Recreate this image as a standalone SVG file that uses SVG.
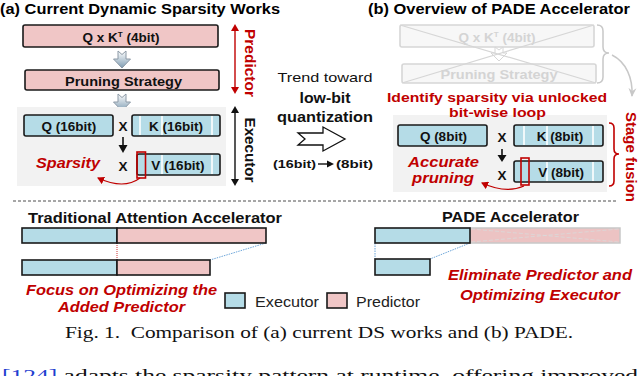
<svg xmlns="http://www.w3.org/2000/svg" width="640" height="376" viewBox="0 0 640 376">
<defs>
<linearGradient id="gArr" x1="0" y1="0" x2="0" y2="1">
<stop offset="0" stop-color="#ffffff"/>
<stop offset="1" stop-color="#7f9db3"/>
</linearGradient>
<marker id="mRed" markerWidth="8" markerHeight="8" refX="6" refY="4" orient="auto" markerUnits="userSpaceOnUse">
<path d="M0,0 L7,4 L0,8 Z" fill="#c00000"/>
</marker>
<marker id="mGray" markerWidth="10" markerHeight="10" refX="8" refY="5" orient="auto" markerUnits="userSpaceOnUse">
<path d="M0,1 L9,5 L0,9 L3,5 Z" fill="#c8c8c8"/>
</marker>
</defs>
<style>
text{font-family:"Liberation Sans",Arial,sans-serif}
.b{font-weight:bold}
.title{font-size:15px;font-weight:bold;fill:#000}
.bx{font-size:13.5px;font-weight:bold;fill:#111}
.pink{fill:#f0c6c6;stroke:#1a1a1a;stroke-width:1.6}
.blue{fill:#b5dce7;stroke:#1a1a1a;stroke-width:1.6}
.red{fill:#c00000}
.ri{font-style:italic;font-weight:bold;fill:#c00000}
.wl{stroke:#ffffff;stroke-width:1.6}
.fade{fill:#f7f7f7;stroke:#d6d6d6;stroke-width:1.6}
.ftx{font-size:13.5px;font-weight:bold;fill:#d4d4d4}
.garr{fill:url(#gArr);stroke:#8c99a6;stroke-width:1}
.panel{fill:#f2f2f2}
.serif{font-family:"Liberation Serif","Times New Roman",serif}
</style>

<!-- Titles -->
<text class="title" x="0" y="14" textLength="280" lengthAdjust="spacingAndGlyphs">(a) Current Dynamic Sparsity Works</text>
<text class="title" x="368" y="14" textLength="262" lengthAdjust="spacingAndGlyphs">(b) Overview of PADE Accelerator</text>

<!-- Left panel (a) -->
<g id="a-qk">
<rect class="pink" x="23" y="25" width="195" height="22" rx="2"/>
<text class="bx" x="121" y="42" text-anchor="middle">Q x K<tspan dy="-5" font-size="8">T</tspan><tspan dy="5"> (4bit)</tspan></text>
</g>
<g id="a-arrow1"><polygon class="garr" points="118,51 122,54.5 126,51 126,59 130.5,59 122,68 113.5,59 118,59"/></g>
<g id="a-prune">
<rect class="pink" x="25" y="70" width="194" height="20" rx="2"/>
<text class="bx" x="123.5" y="85.5" text-anchor="middle" textLength="117" lengthAdjust="spacingAndGlyphs">Pruning Strategy</text>
</g>
<g id="a-arrow2"><polygon class="garr" points="118,94 122,97.5 126,94 126,102 130.5,102 122,111 113.5,102 118,102"/></g>

<g id="a-exec">
<rect class="panel" x="17" y="107" width="209" height="79"/>
<rect class="blue" x="24" y="115" width="89" height="21" rx="2"/>
<text class="bx" x="69" y="131" text-anchor="middle">Q (16bit)</text>
<text class="bx" x="123" y="131" text-anchor="middle">X</text>
<rect class="blue" x="132" y="115" width="88" height="21" rx="2"/>
<line class="wl" x1="140" y1="116" x2="140" y2="135"/>
<line class="wl" x1="162" y1="116" x2="162" y2="135"/>
<line class="wl" x1="212" y1="116" x2="212" y2="135"/>
<text class="bx" x="176" y="131" text-anchor="middle">K (16bit)</text>
<line x1="123" y1="137" x2="123" y2="146" stroke="#111" stroke-width="1.6"/>
<polygon points="118.5,145 127.5,145 123,153" fill="#111"/>
<text class="bx" x="123" y="171" text-anchor="middle">X</text>
<rect class="blue" x="137" y="154" width="83" height="21" rx="2"/>
<line class="wl" x1="162" y1="155" x2="162" y2="174"/>
<line class="wl" x1="212" y1="155" x2="212" y2="174"/>
<text class="bx" x="178" y="170" text-anchor="middle">V (16bit)</text>
<rect x="137" y="152" width="8.5" height="26" fill="none" stroke="#c00000" stroke-width="1.6"/>
<text class="ri" x="36" y="168" font-size="15" textLength="64" lengthAdjust="spacingAndGlyphs">Sparsity</text>
</g>

<!-- Side arrows (a) -->
<g id="a-predictor">
<line x1="235" y1="30" x2="235" y2="88" stroke="#c00000" stroke-width="1.4"/>
<polygon points="231,31 239,31 235,24" fill="#c00000"/>
<polygon points="231,87 239,87 235,94" fill="#c00000"/>
<text class="b red" font-size="15" transform="translate(250,63) rotate(90)" text-anchor="middle" dominant-baseline="central" textLength="68" lengthAdjust="spacingAndGlyphs">Predictor</text>
</g>
<g id="a-executor">
<line x1="235" y1="112" x2="235" y2="180" stroke="#111" stroke-width="1.4"/>
<polygon points="231,113 239,113 235,106" fill="#111"/>
<polygon points="231,179 239,179 235,186" fill="#111"/>
<text class="b" font-size="15" fill="#111" transform="translate(250,150) rotate(90)" text-anchor="middle" dominant-baseline="central" textLength="65" lengthAdjust="spacingAndGlyphs">Executor</text>
</g>

<!-- Middle -->
<g id="mid">
<text x="325" y="82" font-size="13.5" text-anchor="middle" fill="#111" textLength="95" lengthAdjust="spacingAndGlyphs">Trend toward</text>
<text class="b" x="325" y="103" font-size="14" text-anchor="middle" fill="#111" textLength="51" lengthAdjust="spacingAndGlyphs">low-bit</text>
<text class="b" x="325" y="122" font-size="14" text-anchor="middle" fill="#111" textLength="96" lengthAdjust="spacingAndGlyphs">quantization</text>
<polygon points="298,133 323,133 323,127 345,139 323,151 323,145 298,145 305,139" fill="#fff" stroke="#111" stroke-width="1.3"/>
<text class="b" x="273" y="168" font-size="11.5" fill="#111" textLength="43" lengthAdjust="spacingAndGlyphs">(16bit)</text>
<line x1="318" y1="164" x2="328" y2="164" stroke="#111" stroke-width="1.4"/>
<polygon points="327,160.5 334,164 327,167.5" fill="#111"/>
<text class="b" x="336" y="168" font-size="11.5" fill="#111" textLength="37" lengthAdjust="spacingAndGlyphs">(8bit)</text>
</g>

<!-- Right panel (b) faded -->
<g id="b-faded">
<rect class="fade" x="400" y="25" width="194" height="22" rx="2"/>
<text class="ftx" x="497" y="42" text-anchor="middle">Q x K<tspan dy="-5" font-size="8">T</tspan><tspan dy="5"> (4bit)</tspan></text>
<rect class="fade" x="402" y="64" width="194" height="19" rx="2"/>
<text class="ftx" x="499" y="79" text-anchor="middle" textLength="117" lengthAdjust="spacingAndGlyphs">Pruning Strategy</text>
<polygon points="495,47 499,50 503,47 503,53 507,53 499,61 491,53 495,53" fill="#fff" stroke="#d6d6d6" stroke-width="1"/>
<line x1="400" y1="25" x2="596" y2="83" stroke="#d6d6d6" stroke-width="1.2"/>
<line x1="594" y1="25" x2="402" y2="83" stroke="#d6d6d6" stroke-width="1.2"/>
<path d="M597,25 Q603,25 603,31 L603,47 Q603,53 609,53 Q603,53 603,59 L603,77 Q603,83 597,83" fill="none" stroke="#c8c8c8" stroke-width="1.5"/>
<path d="M612,55 C626,62 633,78 632,96" fill="none" stroke="#c8c8c8" stroke-width="1.5" marker-end="url(#mGray)"/>
</g>

<g id="b-exec">
<rect class="panel" x="393" y="115" width="214" height="77"/>
<rect class="blue" x="398" y="125" width="89" height="21" rx="2"/>
<text class="bx" x="443.5" y="141" text-anchor="middle">Q (8bit)</text>
<text class="bx" x="502" y="142" text-anchor="middle">X</text>
<rect class="blue" x="514" y="125" width="89" height="21" rx="2"/>
<line class="wl" x1="524" y1="126" x2="524" y2="145"/>
<line class="wl" x1="547" y1="126" x2="547" y2="145"/>
<line class="wl" x1="593" y1="126" x2="593" y2="145"/>
<text class="bx" x="560" y="141" text-anchor="middle">K (8bit)</text>
<line x1="502" y1="149" x2="502" y2="156" stroke="#111" stroke-width="1.6"/>
<polygon points="497.5,155 506.5,155 502,162" fill="#111"/>
<text class="bx" x="502" y="180" text-anchor="middle">X</text>
<rect class="blue" x="514" y="161" width="89" height="21" rx="2"/>
<line class="wl" x1="547" y1="162" x2="547" y2="181"/>
<line class="wl" x1="593" y1="162" x2="593" y2="181"/>
<text class="bx" x="561" y="177" text-anchor="middle">V (8bit)</text>
<rect x="521" y="158" width="8" height="27" fill="none" stroke="#c00000" stroke-width="1.6"/>
<text class="ri" x="443.5" y="167" font-size="15" text-anchor="middle" textLength="71" lengthAdjust="spacingAndGlyphs">Accurate</text>
<text class="ri" x="443" y="183" font-size="15" text-anchor="middle" textLength="62" lengthAdjust="spacingAndGlyphs">pruning</text>
</g>

<text class="b red" x="387" y="101.5" font-size="13.5" textLength="220" lengthAdjust="spacingAndGlyphs">Identify sparsity via unlocked</text>
<text class="b red" x="449" y="117" font-size="13.5" textLength="97" lengthAdjust="spacingAndGlyphs">bit-wise loop</text>

<g id="b-fusion">
<path d="M609,123 Q614,123 614,128 L614,149 Q614,154 619,154 Q614,154 614,159 L614,181 Q614,186 609,186" fill="none" stroke="#c00000" stroke-width="1.6"/>
<text class="b red" font-size="15" transform="translate(631,157) rotate(90)" text-anchor="middle" dominant-baseline="central" textLength="90" lengthAdjust="spacingAndGlyphs">Stage fusion</text>
</g>

<!-- Connectors -->
<g id="connectors">
<path d="M140,178 Q124,190 98,178" fill="none" stroke="#c00000" stroke-width="1.2" marker-end="url(#mRed)"/>
<path d="M524,186 Q506,194 482,183" fill="none" stroke="#c00000" stroke-width="1.2" marker-end="url(#mRed)"/>
<line x1="117" y1="243" x2="117" y2="260" stroke="#c00000" stroke-width="0.8" stroke-dasharray="1,1"/>
<line x1="266" y1="243" x2="210" y2="260" stroke="#5b9bd5" stroke-width="0.9" stroke-dasharray="1.5,1"/>
<line x1="375" y1="243" x2="375" y2="259" stroke="#5b9bd5" stroke-width="0.9" stroke-dasharray="1.5,1"/>
<line x1="470" y1="243" x2="430" y2="259" stroke="#5b9bd5" stroke-width="0.9" stroke-dasharray="1.5,1"/>
</g>

<!-- Separator -->
<line x1="13" y1="201" x2="617" y2="201" stroke="#222" stroke-width="0.8" stroke-dasharray="3,2"/>

<!-- Bottom left -->
<g id="trad">
<text class="b" x="28" y="223" font-size="14" fill="#111" textLength="254" lengthAdjust="spacingAndGlyphs">Traditional Attention Accelerator</text>
<rect class="blue" x="22" y="228" width="95" height="15"/>
<rect class="pink" x="117" y="228" width="149" height="15"/>
<rect class="blue" x="22" y="260" width="95" height="15"/>
<rect class="pink" x="117" y="260" width="93" height="15"/>
<text class="ri" x="121.5" y="295" font-size="14.5" text-anchor="middle" textLength="191" lengthAdjust="spacingAndGlyphs">Focus on Optimizing the</text>
<text class="ri" x="121.5" y="312" font-size="14.5" text-anchor="middle" textLength="127" lengthAdjust="spacingAndGlyphs">Added Predictor</text>
</g>

<!-- Bottom right -->
<g id="pade">
<text class="b" x="442" y="222" font-size="14" fill="#111" textLength="137" lengthAdjust="spacingAndGlyphs">PADE Accelerator</text>
<rect x="470" y="228" width="150" height="15" fill="#ecc3c3" stroke="#c8c8c8" stroke-width="1.5"/>
<line x1="471" y1="229" x2="619" y2="242" stroke="#d9d9d9" stroke-width="0.8" stroke-dasharray="4,2"/>
<line x1="471" y1="242" x2="619" y2="229" stroke="#d9d9d9" stroke-width="0.8" stroke-dasharray="4,2"/>
<rect class="blue" x="375" y="228" width="95" height="15"/>
<rect class="blue" x="375" y="259" width="55" height="16"/>
<text class="ri" x="540" y="280" font-size="14.5" text-anchor="middle" textLength="184" lengthAdjust="spacingAndGlyphs">Eliminate Predictor and</text>
<text class="ri" x="540" y="300" font-size="14.5" text-anchor="middle" textLength="160" lengthAdjust="spacingAndGlyphs">Optimizing Executor</text>
</g>

<!-- Legend -->
<g id="legend">
<rect class="blue" x="225" y="293" width="20" height="15"/>
<text x="255" y="307" font-size="15" fill="#222" textLength="64" lengthAdjust="spacingAndGlyphs">Executor</text>
<rect class="pink" x="327" y="293" width="20" height="15"/>
<text x="356" y="307" font-size="15" fill="#222" textLength="64" lengthAdjust="spacingAndGlyphs">Predictor</text>
</g>

<!-- Caption -->
<text class="serif" x="65" y="338" font-size="16" fill="#111" textLength="508" lengthAdjust="spacingAndGlyphs">Fig. 1.&#160; Comparison of (a) current DS works and (b) PADE.</text>
<text class="serif" x="2" y="381" font-size="17.5" fill="#111" textLength="636" lengthAdjust="spacingAndGlyphs"><tspan fill="#1f3fd0">[124]</tspan> adapts the sparsity pattern at runtime, offering improved</text>
</svg>
